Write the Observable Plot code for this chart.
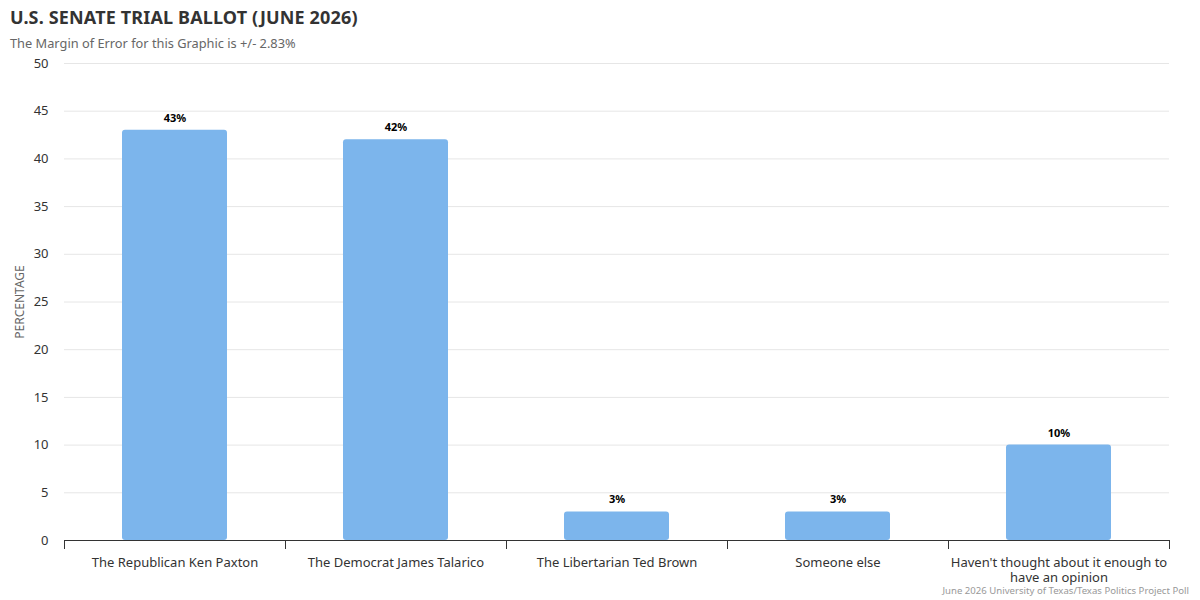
<!DOCTYPE html>
<html>
<head>
<meta charset="utf-8">
<script src="https://cdn.jsdelivr.net/npm/d3@7"></script>
<script src="https://cdn.jsdelivr.net/npm/@observablehq/plot@0.6"></script>
<style>
  html, body { margin: 0; padding: 0; background: #fff; }
  body { width: 1200px; height: 600px; position: relative; overflow: hidden; font-family: "Noto Sans", "Open Sans", sans-serif; }
  #header { height: 55px; position: relative; }
  #title { position: absolute; left: 10px; top: 5px; font-size: 18px; font-weight: bold; color: #333333; letter-spacing: 0.15px; }
  #subtitle { position: absolute; left: 10px; top: 34px; font-size: 12.8px; color: #666666; }
  #caption { position: absolute; right: 11px; top: 586px; font-size: 9.6px; line-height: 10px; color: #999999; }
  #chart svg { display: block; }
</style>
</head>
<body>
<div id="header">
  <div id="title">U.S. SENATE TRIAL BALLOT (JUNE 2026)</div>
  <div id="subtitle">The Margin of Error for this Graphic is +/- 2.83%</div>
</div>
<div id="chart"></div>
<div id="caption">June 2026 University of Texas/Texas Politics Project Poll</div>
<script>
const categories = [
  "The Republican Ken Paxton",
  "The Democrat James Talarico",
  "The Libertarian Ted Brown",
  "Someone else",
  "Haven't thought about it enough to have an opinion"
];
const tickLabels = [
  "The Republican Ken Paxton",
  "The Democrat James Talarico",
  "The Libertarian Ted Brown",
  "Someone else",
  "Haven't thought about it enough to\nhave an opinion"
];
const values = [43, 42, 3, 3, 10];
const yTicks = [0, 5, 10, 15, 20, 25, 30, 35, 40, 45, 50];
const yLabel = "PERCENTAGE";

const data = categories.map((c, i) => ({category: c, value: values[i], label: tickLabels[i]}));
const labelOf = new Map(data.map(d => [d.category, d.label]));

const width = 1200, height = 545;
const marginLeft = 64, marginRight = 31, marginTop = 8, marginBottom = 60;
const step = (width - marginLeft - marginRight) / categories.length;

const chart = Plot.plot({
  width, height, marginLeft, marginRight, marginTop, marginBottom,
  style: {fontFamily: "'Noto Sans', 'Open Sans', sans-serif", fontSize: "12px", color: "#333333", background: "#ffffff"},
  x: {domain: categories, paddingInner: 0.525, paddingOuter: 0.2625, axis: null},
  y: {domain: [0, 50], ticks: yTicks, axis: null},
  marks: [
    Plot.gridY(yTicks.filter(t => t > 0), {stroke: "#e6e6e6", strokeOpacity: 1, strokeWidth: 1}),
    Plot.axisY({ticks: yTicks, tickSize: 0, tickPadding: 16, label: null, fill: "#333333", fontSize: 13}),
    Plot.barY(data, {x: "category", y: "value", fill: "#7cb5ec", rx: 3}),
    Plot.ruleY([0], {stroke: "#333333", strokeWidth: 1}),
    Plot.axisX({tickSize: 0, tickPadding: 16, label: null, fontSize: 13, fill: "#333333",
      tickFormat: c => labelOf.get(c), lineHeight: 1.15}),
    Plot.ruleX(categories, {x: d => d, y1: 0, y2: 0, dx: -step / 2, stroke: "#333333", insetBottom: -9}),
    Plot.ruleX([categories[categories.length - 1]], {x: d => d, y1: 0, y2: 0, dx: step / 2, stroke: "#333333", insetBottom: -9}),
    Plot.text(data, {x: "category", y: "value", text: d => d.value + "%", dy: -12, fill: "#000000",
      fontWeight: "bold", fontSize: 11}),
    Plot.text([yLabel], {frameAnchor: "left", textAnchor: "middle", rotate: -90, dx: -44, fill: "#666666", fontSize: 12})
  ]
});
document.getElementById("chart").appendChild(chart);
</script>
</body>
</html>
